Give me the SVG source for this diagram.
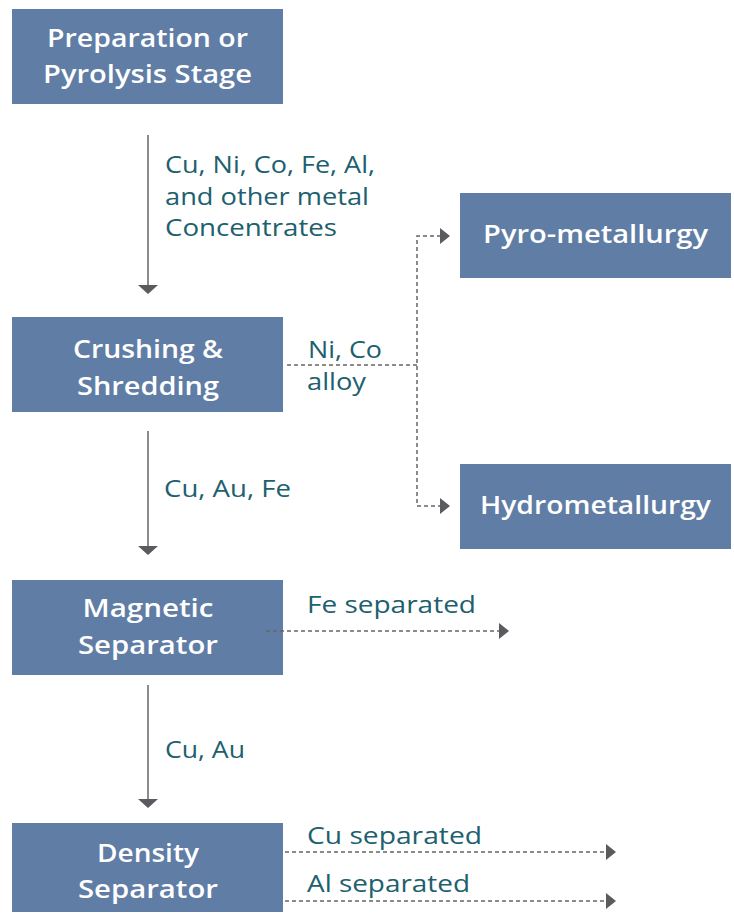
<svg xmlns="http://www.w3.org/2000/svg" width="734" height="913" viewBox="0 0 734 913">
<style>
.box{fill:#607DA5}
.bt{font-family:"Open Sans",Lato,"Liberation Sans",sans-serif;font-weight:600;font-size:26px;fill:#fff;text-anchor:middle}
.lb{font-family:"Open Sans",Lato,"Liberation Sans",sans-serif;font-size:23px;fill:#20606E}
.solid{stroke:#666;stroke-width:1.5;fill:none}
.dash{stroke:#666;stroke-width:1.5;fill:none;stroke-dasharray:4 3}
.ah{fill:#5A5A5F}
</style>
<rect width="734" height="913" fill="#fff"/>
<g id="node-preparation"><rect class="box" x="12" y="9" width="271" height="95"/><text class="bt" x="147.5" y="47" textLength="201" lengthAdjust="spacingAndGlyphs">Preparation or</text><text class="bt" x="147.5" y="83" textLength="209" lengthAdjust="spacingAndGlyphs">Pyrolysis Stage</text></g>
<g id="node-crushing"><rect class="box" x="12" y="317" width="271" height="95"/><text class="bt" x="148" y="358" textLength="150" lengthAdjust="spacingAndGlyphs">Crushing &amp;</text><text class="bt" x="148" y="395" textLength="142" lengthAdjust="spacingAndGlyphs">Shredding</text></g>
<g id="node-magnetic"><rect class="box" x="12" y="580" width="271" height="95"/><text class="bt" x="148" y="617" textLength="131" lengthAdjust="spacingAndGlyphs">Magnetic</text><text class="bt" x="148" y="654" textLength="140" lengthAdjust="spacingAndGlyphs">Separator</text></g>
<g id="node-density"><rect class="box" x="12" y="823" width="271" height="89"/><text class="bt" x="148" y="862" textLength="102" lengthAdjust="spacingAndGlyphs">Density</text><text class="bt" x="148" y="898" textLength="140" lengthAdjust="spacingAndGlyphs">Separator</text></g>
<g id="node-pyro"><rect class="box" x="460" y="193" width="271" height="85"/><text class="bt" x="595.5" y="243" textLength="225" lengthAdjust="spacingAndGlyphs">Pyro-metallurgy</text></g>
<g id="node-hydro"><rect class="box" x="460" y="464" width="271" height="85"/><text class="bt" x="595.5" y="514" textLength="231" lengthAdjust="spacingAndGlyphs">Hydrometallurgy</text></g>
<g id="connectors">
<line class="solid" x1="148" y1="135" x2="148" y2="286"/><polygon class="ah" points="138,285 158,285 148,294"/>
<line class="solid" x1="148" y1="431" x2="148" y2="547"/><polygon class="ah" points="138,546 158,546 148,555"/>
<line class="solid" x1="148" y1="685" x2="148" y2="800"/><polygon class="ah" points="138,799 158,799 148,808"/>
<polyline class="dash" points="287,365 417,365"/>
<polyline class="dash" points="441,236 417,236 417,506 441,506"/>
<polygon class="ah" points="440,228 450,236 440,244"/><polygon class="ah" points="440,498 450,506 440,514"/>
<line class="dash" x1="266" y1="631" x2="500" y2="631"/><polygon class="ah" points="499,623 509,631 499,639"/>
<line class="dash" x1="285" y1="852" x2="607" y2="852"/><polygon class="ah" points="606,844 616,852 606,860"/>
<line class="dash" x1="285" y1="901" x2="607" y2="901"/><polygon class="ah" points="606,893 616,901 606,909"/>
</g>
<g id="labels">
<text class="lb" x="165" y="173" textLength="210" lengthAdjust="spacingAndGlyphs">Cu, Ni, Co, Fe, Al,</text>
<text class="lb" x="165" y="205" textLength="204" lengthAdjust="spacingAndGlyphs">and other metal</text>
<text class="lb" x="165" y="236" textLength="172" lengthAdjust="spacingAndGlyphs">Concentrates</text>
<text class="lb" x="308" y="358" textLength="74" lengthAdjust="spacingAndGlyphs">Ni, Co</text>
<text class="lb" x="307" y="390" textLength="59" lengthAdjust="spacingAndGlyphs">alloy</text>
<text class="lb" x="164" y="497" textLength="127" lengthAdjust="spacingAndGlyphs">Cu, Au, Fe</text>
<text class="lb" x="307" y="613" textLength="169" lengthAdjust="spacingAndGlyphs">Fe separated</text>
<text class="lb" x="165" y="758" textLength="80" lengthAdjust="spacingAndGlyphs">Cu, Au</text>
<text class="lb" x="307" y="844" textLength="175" lengthAdjust="spacingAndGlyphs">Cu separated</text>
<text class="lb" x="307" y="892" textLength="163" lengthAdjust="spacingAndGlyphs">Al separated</text>
</g>
</svg>
